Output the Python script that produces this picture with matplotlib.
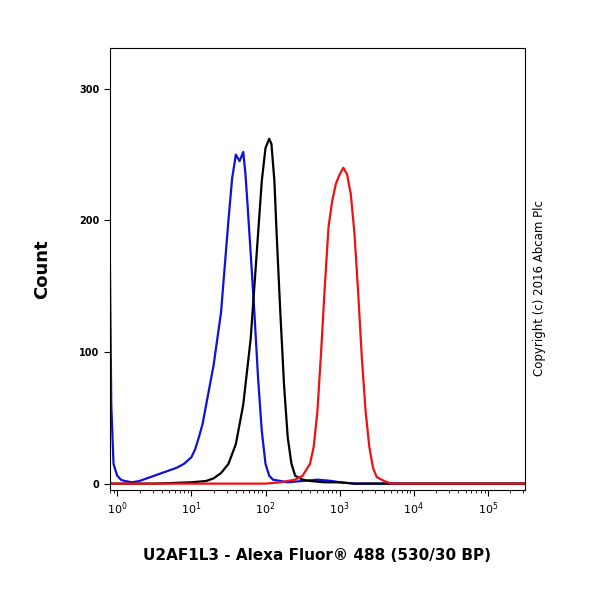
import matplotlib
matplotlib.use("Agg")
import matplotlib.pyplot as plt
import numpy as np

# log10 positions and counts
blue_x = [-0.1,-0.08,-0.05,0.0,0.05,0.1,0.2,0.3,0.4,0.5,0.6,0.7,0.8,0.9,1.0,1.05,1.1,1.15,1.2,1.25,1.3,1.35,1.4,1.45,1.5,1.55,1.6,1.65,1.7,1.73,1.76,1.8,1.85,1.9,1.95,2.0,2.05,2.1,2.2,2.3,2.5,2.7,2.9,3.0,3.2,5.5]
blue_y = [175,60,15,6,3,2,1,2,4,6,8,10,12,15,20,26,35,45,60,75,90,110,130,165,200,232,250,245,252,235,210,175,130,80,40,15,6,3,2,1,2,3,2,1,0,0]
black_x = [-0.1,0.5,1.0,1.2,1.3,1.4,1.5,1.6,1.7,1.8,1.85,1.9,1.95,2.0,2.05,2.08,2.12,2.15,2.2,2.25,2.3,2.35,2.4,2.5,2.6,2.8,3.0,3.2,5.5]
black_y = [0,0,1,2,4,8,15,30,60,110,150,190,230,255,262,258,230,190,130,75,35,15,6,3,2,1,1,0,0]
red_x = [-0.1,2.0,2.2,2.4,2.5,2.6,2.65,2.7,2.75,2.8,2.85,2.9,2.95,3.0,3.05,3.1,3.15,3.2,3.25,3.3,3.35,3.4,3.45,3.5,3.6,3.7,5.5]
red_y = [0,0,1,3,6,15,28,55,100,150,195,215,228,235,240,235,220,190,145,95,55,28,12,5,2,0,0]

fig = plt.figure(figsize=(6,6), dpi=100)
ax = fig.add_axes([0.183, 0.183, 0.692, 0.737])
ax.plot(blue_x, blue_y, color="#1010dd", lw=1.6)
ax.plot(black_x, black_y, color="black", lw=1.6)
ax.plot(red_x, red_y, color="#ee1111", lw=1.6)
ax.set_xlim(-0.1, 5.5)
ax.set_ylim(-5, 331)
ax.set_xticks(range(6))
ax.set_xticklabels([f"$10^{{{i}}}$" for i in range(6)], fontsize=8)
minor = [np.log10(m) + d for d in range(-1, 6) for m in range(2, 10)]
ax.set_xticks([m for m in minor if -0.1 <= m <= 5.5], minor=True)
ax.set_yticks([0,100,200,300])
ax.set_yticklabels(["0","100","200","300"], fontsize=7, fontweight="bold")
ax.tick_params(length=4)
ax.tick_params(which="minor", length=2)
ax.set_ylabel("Count", fontsize=13, fontweight="bold", labelpad=20)
ax.set_xlabel("U2AF1L3 - Alexa Fluor® 488 (530/30 BP)", fontsize=11, fontweight="bold", labelpad=22)
fig.text(0.9, 0.52, "Copyright (c) 2016 Abcam Plc", rotation=90, fontsize=8.5, va="center", ha="center")
fig.savefig("out.png")
